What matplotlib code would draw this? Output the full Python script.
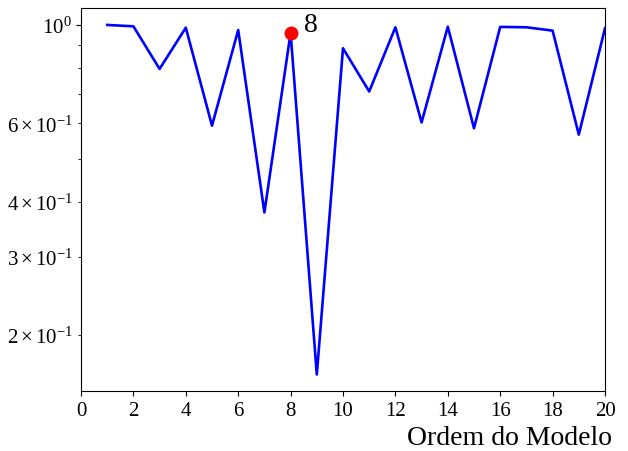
import matplotlib
matplotlib.use('Agg')
import matplotlib.pyplot as plt

plt.rcParams['font.family'] = ['Liberation Serif', 'DejaVu Serif']
plt.rcParams['mathtext.fontset'] = 'custom'
plt.rcParams['mathtext.rm'] = 'Liberation Serif'
plt.rcParams['mathtext.it'] = 'Liberation Serif:italic'

# model order vs. normalized criterion
ordens = list(range(1, 21))
valores = [1.0, 0.993, 0.796, 0.986, 0.593, 0.974, 0.378, 0.96, 0.163, 0.886,
           0.708, 0.988, 0.603, 0.991, 0.585, 0.99, 0.988, 0.971, 0.566, 0.983]
ordem_escolhida = 8


def plot_ordem():
    fig = plt.figure(figsize=(6.28, 4.52), dpi=100)
    ax = fig.add_axes([81 / 628, 60 / 452, 524 / 628, 383 / 452])
    ax.plot(ordens, valores, color='blue', linewidth=1.9)
    y_sel = valores[ordens.index(ordem_escolhida)]
    ax.plot(ordem_escolhida, y_sel, 'o', color='red', markersize=9, zorder=5)
    ax.annotate(str(ordem_escolhida), (ordem_escolhida, y_sel),
                xytext=(10, 6), textcoords='offset points',
                fontsize=20, va='center', ha='left')

    ax.set_yscale('log')
    ax.set_xlim(0, 20)
    ax.set_ylim(0.1496, 1.092)
    ax.set_xticks(range(0, 21, 2))
    ax.tick_params(which='both', labelsize=15, direction='out')
    ax.set_xlabel('Ordem do Modelo', fontsize=20, ha='right')
    ax.xaxis.set_label_coords(1.0134, -0.09)
    fig.savefig('out.png', dpi=100)


if __name__ == '__main__':
    plot_ordem()
